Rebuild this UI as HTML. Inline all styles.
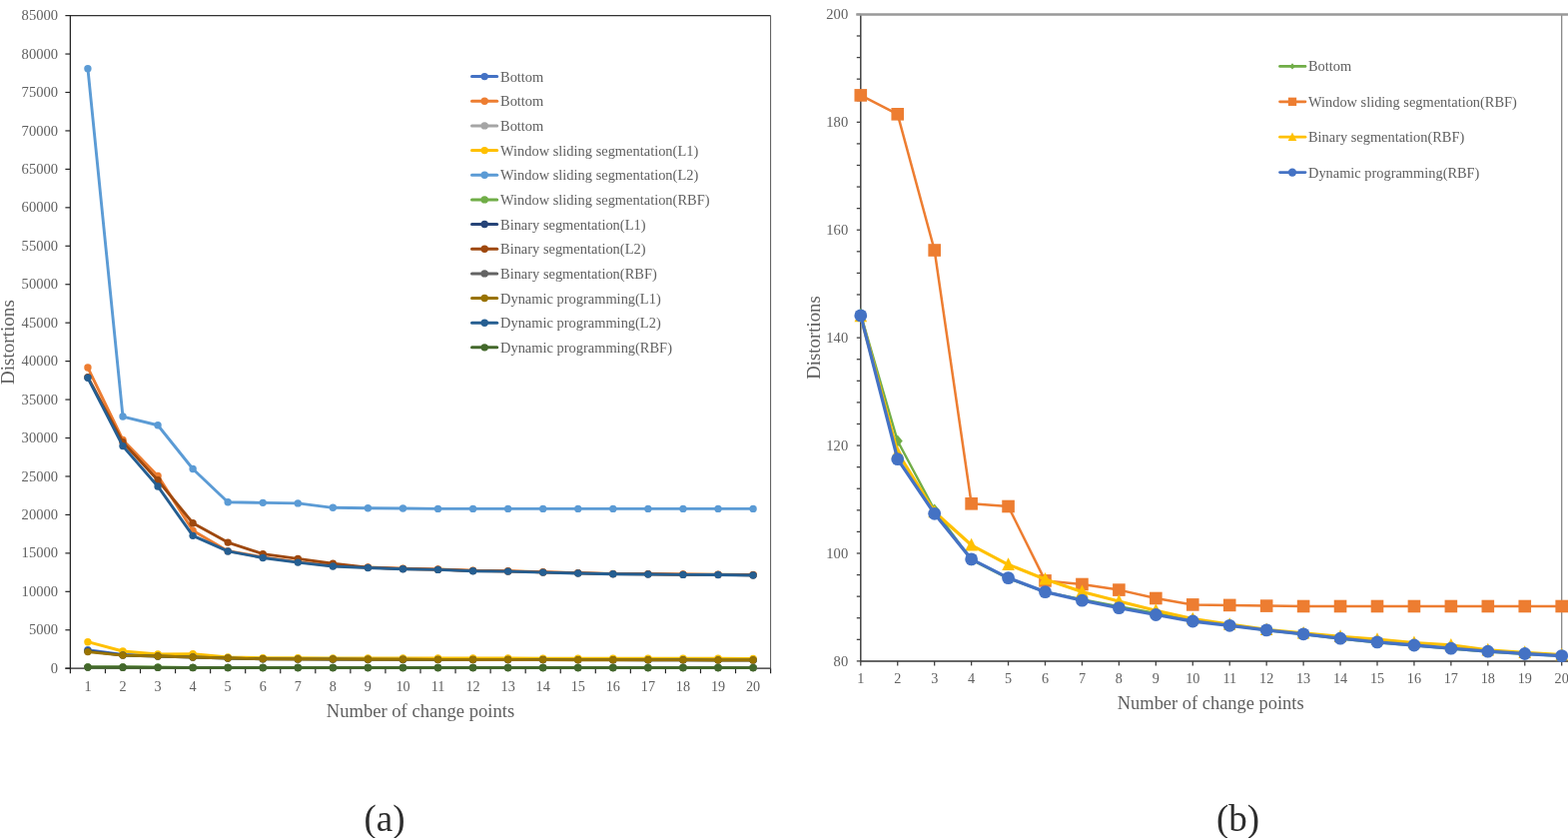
<!DOCTYPE html><html><head><meta charset="utf-8"><title>Distortions vs number of change points</title>
<style>html,body{margin:0;padding:0;background:#fff;width:1570px;height:839px;overflow:hidden}svg{display:block}text{font-family:'Liberation Serif','Times New Roman',serif}</style></head><body>
<svg width="1570" height="839" viewBox="0 0 1570 839">
<rect width="1570" height="839" fill="#fff"/>
<g id="chartA">
<line x1="70.4" y1="15.6" x2="771.6" y2="15.6" stroke="#333" stroke-width="1.2"/>
<line x1="771.6" y1="15.6" x2="771.6" y2="669.2" stroke="#555" stroke-width="1"/>
<line x1="70.4" y1="15" x2="70.4" y2="669.8" stroke="#262626" stroke-width="1.3"/>
<line x1="65.4" y1="669.2" x2="771.6" y2="669.2" stroke="#262626" stroke-width="1.3"/>
<g fill="#606060" font-size="14.6" text-anchor="end">
<line x1="65.4" y1="669.2" x2="70.4" y2="669.2" stroke="#262626" stroke-width="1.2"/>
<text transform="translate(58.1,673.8) scale(1,1.07)">0</text>
<line x1="65.4" y1="630.75" x2="70.4" y2="630.75" stroke="#262626" stroke-width="1.2"/>
<text transform="translate(58.1,635.35) scale(1,1.07)">5000</text>
<line x1="65.4" y1="592.31" x2="70.4" y2="592.31" stroke="#262626" stroke-width="1.2"/>
<text transform="translate(58.1,596.91) scale(1,1.07)">10000</text>
<line x1="65.4" y1="553.86" x2="70.4" y2="553.86" stroke="#262626" stroke-width="1.2"/>
<text transform="translate(58.1,558.46) scale(1,1.07)">15000</text>
<line x1="65.4" y1="515.41" x2="70.4" y2="515.41" stroke="#262626" stroke-width="1.2"/>
<text transform="translate(58.1,520.01) scale(1,1.07)">20000</text>
<line x1="65.4" y1="476.96" x2="70.4" y2="476.96" stroke="#262626" stroke-width="1.2"/>
<text transform="translate(58.1,481.56) scale(1,1.07)">25000</text>
<line x1="65.4" y1="438.52" x2="70.4" y2="438.52" stroke="#262626" stroke-width="1.2"/>
<text transform="translate(58.1,443.12) scale(1,1.07)">30000</text>
<line x1="65.4" y1="400.07" x2="70.4" y2="400.07" stroke="#262626" stroke-width="1.2"/>
<text transform="translate(58.1,404.67) scale(1,1.07)">35000</text>
<line x1="65.4" y1="361.62" x2="70.4" y2="361.62" stroke="#262626" stroke-width="1.2"/>
<text transform="translate(58.1,366.22) scale(1,1.07)">40000</text>
<line x1="65.4" y1="323.18" x2="70.4" y2="323.18" stroke="#262626" stroke-width="1.2"/>
<text transform="translate(58.1,327.78) scale(1,1.07)">45000</text>
<line x1="65.4" y1="284.73" x2="70.4" y2="284.73" stroke="#262626" stroke-width="1.2"/>
<text transform="translate(58.1,289.33) scale(1,1.07)">50000</text>
<line x1="65.4" y1="246.28" x2="70.4" y2="246.28" stroke="#262626" stroke-width="1.2"/>
<text transform="translate(58.1,250.88) scale(1,1.07)">55000</text>
<line x1="65.4" y1="207.84" x2="70.4" y2="207.84" stroke="#262626" stroke-width="1.2"/>
<text transform="translate(58.1,212.44) scale(1,1.07)">60000</text>
<line x1="65.4" y1="169.39" x2="70.4" y2="169.39" stroke="#262626" stroke-width="1.2"/>
<text transform="translate(58.1,173.99) scale(1,1.07)">65000</text>
<line x1="65.4" y1="130.94" x2="70.4" y2="130.94" stroke="#262626" stroke-width="1.2"/>
<text transform="translate(58.1,135.54) scale(1,1.07)">70000</text>
<line x1="65.4" y1="92.49" x2="70.4" y2="92.49" stroke="#262626" stroke-width="1.2"/>
<text transform="translate(58.1,97.09) scale(1,1.07)">75000</text>
<line x1="65.4" y1="54.05" x2="70.4" y2="54.05" stroke="#262626" stroke-width="1.2"/>
<text transform="translate(58.1,58.65) scale(1,1.07)">80000</text>
<line x1="65.4" y1="15.6" x2="70.4" y2="15.6" stroke="#262626" stroke-width="1.2"/>
<text transform="translate(58.1,20.2) scale(1,1.07)">85000</text>
</g>
<line x1="70.4" y1="669.2" x2="70.4" y2="674.2" stroke="#262626" stroke-width="1.2"/>
<line x1="105.46" y1="669.2" x2="105.46" y2="674.2" stroke="#262626" stroke-width="1.2"/>
<line x1="140.52" y1="669.2" x2="140.52" y2="674.2" stroke="#262626" stroke-width="1.2"/>
<line x1="175.58" y1="669.2" x2="175.58" y2="674.2" stroke="#262626" stroke-width="1.2"/>
<line x1="210.64" y1="669.2" x2="210.64" y2="674.2" stroke="#262626" stroke-width="1.2"/>
<line x1="245.7" y1="669.2" x2="245.7" y2="674.2" stroke="#262626" stroke-width="1.2"/>
<line x1="280.76" y1="669.2" x2="280.76" y2="674.2" stroke="#262626" stroke-width="1.2"/>
<line x1="315.82" y1="669.2" x2="315.82" y2="674.2" stroke="#262626" stroke-width="1.2"/>
<line x1="350.88" y1="669.2" x2="350.88" y2="674.2" stroke="#262626" stroke-width="1.2"/>
<line x1="385.94" y1="669.2" x2="385.94" y2="674.2" stroke="#262626" stroke-width="1.2"/>
<line x1="421" y1="669.2" x2="421" y2="674.2" stroke="#262626" stroke-width="1.2"/>
<line x1="456.06" y1="669.2" x2="456.06" y2="674.2" stroke="#262626" stroke-width="1.2"/>
<line x1="491.12" y1="669.2" x2="491.12" y2="674.2" stroke="#262626" stroke-width="1.2"/>
<line x1="526.18" y1="669.2" x2="526.18" y2="674.2" stroke="#262626" stroke-width="1.2"/>
<line x1="561.24" y1="669.2" x2="561.24" y2="674.2" stroke="#262626" stroke-width="1.2"/>
<line x1="596.3" y1="669.2" x2="596.3" y2="674.2" stroke="#262626" stroke-width="1.2"/>
<line x1="631.36" y1="669.2" x2="631.36" y2="674.2" stroke="#262626" stroke-width="1.2"/>
<line x1="666.42" y1="669.2" x2="666.42" y2="674.2" stroke="#262626" stroke-width="1.2"/>
<line x1="701.48" y1="669.2" x2="701.48" y2="674.2" stroke="#262626" stroke-width="1.2"/>
<line x1="736.54" y1="669.2" x2="736.54" y2="674.2" stroke="#262626" stroke-width="1.2"/>
<line x1="771.6" y1="669.2" x2="771.6" y2="674.2" stroke="#262626" stroke-width="1.2"/>
<g fill="#606060" font-size="14.2" text-anchor="middle">
<text x="87.93" y="692">1</text>
<text x="122.99" y="692">2</text>
<text x="158.05" y="692">3</text>
<text x="193.11" y="692">4</text>
<text x="228.17" y="692">5</text>
<text x="263.23" y="692">6</text>
<text x="298.29" y="692">7</text>
<text x="333.35" y="692">8</text>
<text x="368.41" y="692">9</text>
<text x="403.47" y="692">10</text>
<text x="438.53" y="692">11</text>
<text x="473.59" y="692">12</text>
<text x="508.65" y="692">13</text>
<text x="543.71" y="692">14</text>
<text x="578.77" y="692">15</text>
<text x="613.83" y="692">16</text>
<text x="648.89" y="692">17</text>
<text x="683.95" y="692">18</text>
<text x="719.01" y="692">19</text>
<text x="754.07" y="692">20</text>
</g>
<text x="421" y="717.6" font-size="18.6" fill="#606060" text-anchor="middle">Number of change points</text>
<text transform="translate(14.2,342.6) rotate(-90)" font-size="19.1" fill="#606060" text-anchor="middle">Distortions</text>
<g><polyline points="87.93,650.75 122.99,655.36 158.05,656.74 193.11,657.67 228.17,658.74 263.23,659.51 298.29,659.67 333.35,659.82 368.41,659.97 403.47,660.13 438.53,660.19 473.59,660.25 508.65,660.31 543.71,660.37 578.77,660.43 613.83,660.5 648.89,660.56 683.95,660.62 719.01,660.68 754.07,660.74" fill="none" stroke="#4472C4" stroke-width="2.9" stroke-linejoin="round" stroke-linecap="round"/>
<circle cx="87.93" cy="650.75" r="3.7" fill="#4472C4"/>
<circle cx="122.99" cy="655.36" r="3.7" fill="#4472C4"/>
<circle cx="158.05" cy="656.74" r="3.7" fill="#4472C4"/>
<circle cx="193.11" cy="657.67" r="3.7" fill="#4472C4"/>
<circle cx="228.17" cy="658.74" r="3.7" fill="#4472C4"/>
<circle cx="263.23" cy="659.51" r="3.7" fill="#4472C4"/>
<circle cx="298.29" cy="659.67" r="3.7" fill="#4472C4"/>
<circle cx="333.35" cy="659.82" r="3.7" fill="#4472C4"/>
<circle cx="368.41" cy="659.97" r="3.7" fill="#4472C4"/>
<circle cx="403.47" cy="660.13" r="3.7" fill="#4472C4"/>
<circle cx="438.53" cy="660.19" r="3.7" fill="#4472C4"/>
<circle cx="473.59" cy="660.25" r="3.7" fill="#4472C4"/>
<circle cx="508.65" cy="660.31" r="3.7" fill="#4472C4"/>
<circle cx="543.71" cy="660.37" r="3.7" fill="#4472C4"/>
<circle cx="578.77" cy="660.43" r="3.7" fill="#4472C4"/>
<circle cx="613.83" cy="660.5" r="3.7" fill="#4472C4"/>
<circle cx="648.89" cy="660.56" r="3.7" fill="#4472C4"/>
<circle cx="683.95" cy="660.62" r="3.7" fill="#4472C4"/>
<circle cx="719.01" cy="660.68" r="3.7" fill="#4472C4"/>
<circle cx="754.07" cy="660.74" r="3.7" fill="#4472C4"/>
</g>
<g><polyline points="87.93,368.04 122.99,440.44 158.05,476.39 193.11,531.18 228.17,551.63 263.23,557.86 298.29,562.62 333.35,566.47 368.41,568.01 403.47,569.31 438.53,569.93 473.59,571.24 508.65,571.7 543.71,572.7 578.77,573.62 613.83,574.43 648.89,574.62 683.95,575.04 719.01,575.16 754.07,575.54" fill="none" stroke="#ED7D31" stroke-width="2.9" stroke-linejoin="round" stroke-linecap="round"/>
<circle cx="87.93" cy="368.04" r="3.7" fill="#ED7D31"/>
<circle cx="122.99" cy="440.44" r="3.7" fill="#ED7D31"/>
<circle cx="158.05" cy="476.39" r="3.7" fill="#ED7D31"/>
<circle cx="193.11" cy="531.18" r="3.7" fill="#ED7D31"/>
<circle cx="228.17" cy="551.63" r="3.7" fill="#ED7D31"/>
<circle cx="263.23" cy="557.86" r="3.7" fill="#ED7D31"/>
<circle cx="298.29" cy="562.62" r="3.7" fill="#ED7D31"/>
<circle cx="333.35" cy="566.47" r="3.7" fill="#ED7D31"/>
<circle cx="368.41" cy="568.01" r="3.7" fill="#ED7D31"/>
<circle cx="403.47" cy="569.31" r="3.7" fill="#ED7D31"/>
<circle cx="438.53" cy="569.93" r="3.7" fill="#ED7D31"/>
<circle cx="473.59" cy="571.24" r="3.7" fill="#ED7D31"/>
<circle cx="508.65" cy="571.7" r="3.7" fill="#ED7D31"/>
<circle cx="543.71" cy="572.7" r="3.7" fill="#ED7D31"/>
<circle cx="578.77" cy="573.62" r="3.7" fill="#ED7D31"/>
<circle cx="613.83" cy="574.43" r="3.7" fill="#ED7D31"/>
<circle cx="648.89" cy="574.62" r="3.7" fill="#ED7D31"/>
<circle cx="683.95" cy="575.04" r="3.7" fill="#ED7D31"/>
<circle cx="719.01" cy="575.16" r="3.7" fill="#ED7D31"/>
<circle cx="754.07" cy="575.54" r="3.7" fill="#ED7D31"/>
</g>
<g><polyline points="87.93,668.09 122.99,668.27 158.05,668.37 193.11,668.44 228.17,668.47 263.23,668.49 298.29,668.5 333.35,668.51 368.41,668.52 403.47,668.53 438.53,668.53 473.59,668.54 508.65,668.55 543.71,668.55 578.77,668.56 613.83,668.56 648.89,668.57 683.95,668.57 719.01,668.57 754.07,668.58" fill="none" stroke="#A5A5A5" stroke-width="2.9" stroke-linejoin="round" stroke-linecap="round"/>
<circle cx="87.93" cy="668.09" r="3.7" fill="#A5A5A5"/>
<circle cx="122.99" cy="668.27" r="3.7" fill="#A5A5A5"/>
<circle cx="158.05" cy="668.37" r="3.7" fill="#A5A5A5"/>
<circle cx="193.11" cy="668.44" r="3.7" fill="#A5A5A5"/>
<circle cx="228.17" cy="668.47" r="3.7" fill="#A5A5A5"/>
<circle cx="263.23" cy="668.49" r="3.7" fill="#A5A5A5"/>
<circle cx="298.29" cy="668.5" r="3.7" fill="#A5A5A5"/>
<circle cx="333.35" cy="668.51" r="3.7" fill="#A5A5A5"/>
<circle cx="368.41" cy="668.52" r="3.7" fill="#A5A5A5"/>
<circle cx="403.47" cy="668.53" r="3.7" fill="#A5A5A5"/>
<circle cx="438.53" cy="668.53" r="3.7" fill="#A5A5A5"/>
<circle cx="473.59" cy="668.54" r="3.7" fill="#A5A5A5"/>
<circle cx="508.65" cy="668.55" r="3.7" fill="#A5A5A5"/>
<circle cx="543.71" cy="668.55" r="3.7" fill="#A5A5A5"/>
<circle cx="578.77" cy="668.56" r="3.7" fill="#A5A5A5"/>
<circle cx="613.83" cy="668.56" r="3.7" fill="#A5A5A5"/>
<circle cx="648.89" cy="668.57" r="3.7" fill="#A5A5A5"/>
<circle cx="683.95" cy="668.57" r="3.7" fill="#A5A5A5"/>
<circle cx="719.01" cy="668.57" r="3.7" fill="#A5A5A5"/>
<circle cx="754.07" cy="668.58" r="3.7" fill="#A5A5A5"/>
</g>
<g><polyline points="87.93,642.71 122.99,651.98 158.05,655.05 193.11,654.74 228.17,657.9 263.23,658.67 298.29,658.82 333.35,658.84 368.41,658.87 403.47,658.9 438.53,658.94 473.59,658.99 508.65,659.03 543.71,659.08 578.77,659.13 613.83,659.17 648.89,659.22 683.95,659.27 719.01,659.31 754.07,659.36" fill="none" stroke="#FFC000" stroke-width="2.9" stroke-linejoin="round" stroke-linecap="round"/>
<circle cx="87.93" cy="642.71" r="3.7" fill="#FFC000"/>
<circle cx="122.99" cy="651.98" r="3.7" fill="#FFC000"/>
<circle cx="158.05" cy="655.05" r="3.7" fill="#FFC000"/>
<circle cx="193.11" cy="654.74" r="3.7" fill="#FFC000"/>
<circle cx="228.17" cy="657.9" r="3.7" fill="#FFC000"/>
<circle cx="263.23" cy="658.67" r="3.7" fill="#FFC000"/>
<circle cx="298.29" cy="658.82" r="3.7" fill="#FFC000"/>
<circle cx="333.35" cy="658.84" r="3.7" fill="#FFC000"/>
<circle cx="368.41" cy="658.87" r="3.7" fill="#FFC000"/>
<circle cx="403.47" cy="658.9" r="3.7" fill="#FFC000"/>
<circle cx="438.53" cy="658.94" r="3.7" fill="#FFC000"/>
<circle cx="473.59" cy="658.99" r="3.7" fill="#FFC000"/>
<circle cx="508.65" cy="659.03" r="3.7" fill="#FFC000"/>
<circle cx="543.71" cy="659.08" r="3.7" fill="#FFC000"/>
<circle cx="578.77" cy="659.13" r="3.7" fill="#FFC000"/>
<circle cx="613.83" cy="659.17" r="3.7" fill="#FFC000"/>
<circle cx="648.89" cy="659.22" r="3.7" fill="#FFC000"/>
<circle cx="683.95" cy="659.27" r="3.7" fill="#FFC000"/>
<circle cx="719.01" cy="659.31" r="3.7" fill="#FFC000"/>
<circle cx="754.07" cy="659.36" r="3.7" fill="#FFC000"/>
</g>
<g><polyline points="87.93,68.66 122.99,417.04 158.05,425.78 193.11,469.53 228.17,502.8 263.23,503.33 298.29,503.92 333.35,508.32 368.41,508.72 403.47,509.03 438.53,509.41 473.59,509.41 508.65,509.41 543.71,509.41 578.77,509.41 613.83,509.41 648.89,509.41 683.95,509.41 719.01,509.41 754.07,509.41" fill="none" stroke="#5B9BD5" stroke-width="2.9" stroke-linejoin="round" stroke-linecap="round"/>
<circle cx="87.93" cy="68.66" r="3.7" fill="#5B9BD5"/>
<circle cx="122.99" cy="417.04" r="3.7" fill="#5B9BD5"/>
<circle cx="158.05" cy="425.78" r="3.7" fill="#5B9BD5"/>
<circle cx="193.11" cy="469.53" r="3.7" fill="#5B9BD5"/>
<circle cx="228.17" cy="502.8" r="3.7" fill="#5B9BD5"/>
<circle cx="263.23" cy="503.33" r="3.7" fill="#5B9BD5"/>
<circle cx="298.29" cy="503.92" r="3.7" fill="#5B9BD5"/>
<circle cx="333.35" cy="508.32" r="3.7" fill="#5B9BD5"/>
<circle cx="368.41" cy="508.72" r="3.7" fill="#5B9BD5"/>
<circle cx="403.47" cy="509.03" r="3.7" fill="#5B9BD5"/>
<circle cx="438.53" cy="509.41" r="3.7" fill="#5B9BD5"/>
<circle cx="473.59" cy="509.41" r="3.7" fill="#5B9BD5"/>
<circle cx="508.65" cy="509.41" r="3.7" fill="#5B9BD5"/>
<circle cx="543.71" cy="509.41" r="3.7" fill="#5B9BD5"/>
<circle cx="578.77" cy="509.41" r="3.7" fill="#5B9BD5"/>
<circle cx="613.83" cy="509.41" r="3.7" fill="#5B9BD5"/>
<circle cx="648.89" cy="509.41" r="3.7" fill="#5B9BD5"/>
<circle cx="683.95" cy="509.41" r="3.7" fill="#5B9BD5"/>
<circle cx="719.01" cy="509.41" r="3.7" fill="#5B9BD5"/>
<circle cx="754.07" cy="509.41" r="3.7" fill="#5B9BD5"/>
</g>
<g><polyline points="87.93,667.78 122.99,667.8 158.05,668 193.11,668.36 228.17,668.36 263.23,668.47 298.29,668.48 333.35,668.48 368.41,668.5 403.47,668.5 438.53,668.51 473.59,668.51 508.65,668.51 543.71,668.51 578.77,668.51 613.83,668.51 648.89,668.51 683.95,668.51 719.01,668.51 754.07,668.51" fill="none" stroke="#70AD47" stroke-width="2.9" stroke-linejoin="round" stroke-linecap="round"/>
<circle cx="87.93" cy="667.78" r="3.7" fill="#70AD47"/>
<circle cx="122.99" cy="667.8" r="3.7" fill="#70AD47"/>
<circle cx="158.05" cy="668" r="3.7" fill="#70AD47"/>
<circle cx="193.11" cy="668.36" r="3.7" fill="#70AD47"/>
<circle cx="228.17" cy="668.36" r="3.7" fill="#70AD47"/>
<circle cx="263.23" cy="668.47" r="3.7" fill="#70AD47"/>
<circle cx="298.29" cy="668.48" r="3.7" fill="#70AD47"/>
<circle cx="333.35" cy="668.48" r="3.7" fill="#70AD47"/>
<circle cx="368.41" cy="668.5" r="3.7" fill="#70AD47"/>
<circle cx="403.47" cy="668.5" r="3.7" fill="#70AD47"/>
<circle cx="438.53" cy="668.51" r="3.7" fill="#70AD47"/>
<circle cx="473.59" cy="668.51" r="3.7" fill="#70AD47"/>
<circle cx="508.65" cy="668.51" r="3.7" fill="#70AD47"/>
<circle cx="543.71" cy="668.51" r="3.7" fill="#70AD47"/>
<circle cx="578.77" cy="668.51" r="3.7" fill="#70AD47"/>
<circle cx="613.83" cy="668.51" r="3.7" fill="#70AD47"/>
<circle cx="648.89" cy="668.51" r="3.7" fill="#70AD47"/>
<circle cx="683.95" cy="668.51" r="3.7" fill="#70AD47"/>
<circle cx="719.01" cy="668.51" r="3.7" fill="#70AD47"/>
<circle cx="754.07" cy="668.51" r="3.7" fill="#70AD47"/>
</g>
<g><polyline points="87.93,651.9 122.99,655.97 158.05,656.97 193.11,657.97 228.17,658.97 263.23,659.74 298.29,659.88 333.35,660.01 368.41,660.15 403.47,660.28 438.53,660.34 473.59,660.4 508.65,660.46 543.71,660.53 578.77,660.59 613.83,660.65 648.89,660.71 683.95,660.77 719.01,660.83 754.07,660.9" fill="none" stroke="#264478" stroke-width="2.9" stroke-linejoin="round" stroke-linecap="round"/>
<circle cx="87.93" cy="651.9" r="3.7" fill="#264478"/>
<circle cx="122.99" cy="655.97" r="3.7" fill="#264478"/>
<circle cx="158.05" cy="656.97" r="3.7" fill="#264478"/>
<circle cx="193.11" cy="657.97" r="3.7" fill="#264478"/>
<circle cx="228.17" cy="658.97" r="3.7" fill="#264478"/>
<circle cx="263.23" cy="659.74" r="3.7" fill="#264478"/>
<circle cx="298.29" cy="659.88" r="3.7" fill="#264478"/>
<circle cx="333.35" cy="660.01" r="3.7" fill="#264478"/>
<circle cx="368.41" cy="660.15" r="3.7" fill="#264478"/>
<circle cx="403.47" cy="660.28" r="3.7" fill="#264478"/>
<circle cx="438.53" cy="660.34" r="3.7" fill="#264478"/>
<circle cx="473.59" cy="660.4" r="3.7" fill="#264478"/>
<circle cx="508.65" cy="660.46" r="3.7" fill="#264478"/>
<circle cx="543.71" cy="660.53" r="3.7" fill="#264478"/>
<circle cx="578.77" cy="660.59" r="3.7" fill="#264478"/>
<circle cx="613.83" cy="660.65" r="3.7" fill="#264478"/>
<circle cx="648.89" cy="660.71" r="3.7" fill="#264478"/>
<circle cx="683.95" cy="660.77" r="3.7" fill="#264478"/>
<circle cx="719.01" cy="660.83" r="3.7" fill="#264478"/>
<circle cx="754.07" cy="660.9" r="3.7" fill="#264478"/>
</g>
<g><polyline points="87.93,377.77 122.99,442.75 158.05,480.81 193.11,523.77 228.17,543.09 263.23,554.63 298.29,559.4 333.35,564.24 368.41,568.08 403.47,569.55 438.53,570.16 473.59,571.47 508.65,571.89 543.71,572.89 578.77,573.81 613.83,574.62 648.89,574.81 683.95,575.22 719.01,575.35 754.07,575.74" fill="none" stroke="#9E480E" stroke-width="2.9" stroke-linejoin="round" stroke-linecap="round"/>
<circle cx="87.93" cy="377.77" r="3.7" fill="#9E480E"/>
<circle cx="122.99" cy="442.75" r="3.7" fill="#9E480E"/>
<circle cx="158.05" cy="480.81" r="3.7" fill="#9E480E"/>
<circle cx="193.11" cy="523.77" r="3.7" fill="#9E480E"/>
<circle cx="228.17" cy="543.09" r="3.7" fill="#9E480E"/>
<circle cx="263.23" cy="554.63" r="3.7" fill="#9E480E"/>
<circle cx="298.29" cy="559.4" r="3.7" fill="#9E480E"/>
<circle cx="333.35" cy="564.24" r="3.7" fill="#9E480E"/>
<circle cx="368.41" cy="568.08" r="3.7" fill="#9E480E"/>
<circle cx="403.47" cy="569.55" r="3.7" fill="#9E480E"/>
<circle cx="438.53" cy="570.16" r="3.7" fill="#9E480E"/>
<circle cx="473.59" cy="571.47" r="3.7" fill="#9E480E"/>
<circle cx="508.65" cy="571.89" r="3.7" fill="#9E480E"/>
<circle cx="543.71" cy="572.89" r="3.7" fill="#9E480E"/>
<circle cx="578.77" cy="573.81" r="3.7" fill="#9E480E"/>
<circle cx="613.83" cy="574.62" r="3.7" fill="#9E480E"/>
<circle cx="648.89" cy="574.81" r="3.7" fill="#9E480E"/>
<circle cx="683.95" cy="575.22" r="3.7" fill="#9E480E"/>
<circle cx="719.01" cy="575.35" r="3.7" fill="#9E480E"/>
<circle cx="754.07" cy="575.74" r="3.7" fill="#9E480E"/>
</g>
<g><polyline points="87.93,668.09 122.99,668.29 158.05,668.37 193.11,668.42 228.17,668.45 263.23,668.47 298.29,668.49 333.35,668.5 368.41,668.51 403.47,668.52 438.53,668.53 473.59,668.54 508.65,668.54 543.71,668.55 578.77,668.55 613.83,668.56 648.89,668.56 683.95,668.57 719.01,668.57 754.07,668.58" fill="none" stroke="#636363" stroke-width="2.9" stroke-linejoin="round" stroke-linecap="round"/>
<circle cx="87.93" cy="668.09" r="3.7" fill="#636363"/>
<circle cx="122.99" cy="668.29" r="3.7" fill="#636363"/>
<circle cx="158.05" cy="668.37" r="3.7" fill="#636363"/>
<circle cx="193.11" cy="668.42" r="3.7" fill="#636363"/>
<circle cx="228.17" cy="668.45" r="3.7" fill="#636363"/>
<circle cx="263.23" cy="668.47" r="3.7" fill="#636363"/>
<circle cx="298.29" cy="668.49" r="3.7" fill="#636363"/>
<circle cx="333.35" cy="668.5" r="3.7" fill="#636363"/>
<circle cx="368.41" cy="668.51" r="3.7" fill="#636363"/>
<circle cx="403.47" cy="668.52" r="3.7" fill="#636363"/>
<circle cx="438.53" cy="668.53" r="3.7" fill="#636363"/>
<circle cx="473.59" cy="668.54" r="3.7" fill="#636363"/>
<circle cx="508.65" cy="668.54" r="3.7" fill="#636363"/>
<circle cx="543.71" cy="668.55" r="3.7" fill="#636363"/>
<circle cx="578.77" cy="668.55" r="3.7" fill="#636363"/>
<circle cx="613.83" cy="668.56" r="3.7" fill="#636363"/>
<circle cx="648.89" cy="668.56" r="3.7" fill="#636363"/>
<circle cx="683.95" cy="668.57" r="3.7" fill="#636363"/>
<circle cx="719.01" cy="668.57" r="3.7" fill="#636363"/>
<circle cx="754.07" cy="668.58" r="3.7" fill="#636363"/>
</g>
<g><polyline points="87.93,652.59 122.99,656.1 158.05,657 193.11,658 228.17,659 263.23,659.8 298.29,659.94 333.35,660.08 368.41,660.22 403.47,660.36 438.53,660.42 473.59,660.49 508.65,660.55 543.71,660.62 578.77,660.68 613.83,660.74 648.89,660.81 683.95,660.87 719.01,660.94 754.07,661" fill="none" stroke="#997300" stroke-width="2.9" stroke-linejoin="round" stroke-linecap="round"/>
<circle cx="87.93" cy="652.59" r="3.7" fill="#997300"/>
<circle cx="122.99" cy="656.1" r="3.7" fill="#997300"/>
<circle cx="158.05" cy="657" r="3.7" fill="#997300"/>
<circle cx="193.11" cy="658" r="3.7" fill="#997300"/>
<circle cx="228.17" cy="659" r="3.7" fill="#997300"/>
<circle cx="263.23" cy="659.8" r="3.7" fill="#997300"/>
<circle cx="298.29" cy="659.94" r="3.7" fill="#997300"/>
<circle cx="333.35" cy="660.08" r="3.7" fill="#997300"/>
<circle cx="368.41" cy="660.22" r="3.7" fill="#997300"/>
<circle cx="403.47" cy="660.36" r="3.7" fill="#997300"/>
<circle cx="438.53" cy="660.42" r="3.7" fill="#997300"/>
<circle cx="473.59" cy="660.49" r="3.7" fill="#997300"/>
<circle cx="508.65" cy="660.55" r="3.7" fill="#997300"/>
<circle cx="543.71" cy="660.62" r="3.7" fill="#997300"/>
<circle cx="578.77" cy="660.68" r="3.7" fill="#997300"/>
<circle cx="613.83" cy="660.74" r="3.7" fill="#997300"/>
<circle cx="648.89" cy="660.81" r="3.7" fill="#997300"/>
<circle cx="683.95" cy="660.87" r="3.7" fill="#997300"/>
<circle cx="719.01" cy="660.94" r="3.7" fill="#997300"/>
<circle cx="754.07" cy="661" r="3.7" fill="#997300"/>
</g>
<g><polyline points="87.93,378.31 122.99,446.59 158.05,486.96 193.11,536.33 228.17,551.94 263.23,558.47 298.29,563.12 333.35,567.01 368.41,568.51 403.47,569.81 438.53,570.41 473.59,571.71 508.65,572.11 543.71,573.11 578.77,574.01 613.83,574.81 648.89,575 683.95,575.41 719.01,575.54 754.07,575.93" fill="none" stroke="#255E91" stroke-width="2.9" stroke-linejoin="round" stroke-linecap="round"/>
<circle cx="87.93" cy="378.31" r="3.7" fill="#255E91"/>
<circle cx="122.99" cy="446.59" r="3.7" fill="#255E91"/>
<circle cx="158.05" cy="486.96" r="3.7" fill="#255E91"/>
<circle cx="193.11" cy="536.33" r="3.7" fill="#255E91"/>
<circle cx="228.17" cy="551.94" r="3.7" fill="#255E91"/>
<circle cx="263.23" cy="558.47" r="3.7" fill="#255E91"/>
<circle cx="298.29" cy="563.12" r="3.7" fill="#255E91"/>
<circle cx="333.35" cy="567.01" r="3.7" fill="#255E91"/>
<circle cx="368.41" cy="568.51" r="3.7" fill="#255E91"/>
<circle cx="403.47" cy="569.81" r="3.7" fill="#255E91"/>
<circle cx="438.53" cy="570.41" r="3.7" fill="#255E91"/>
<circle cx="473.59" cy="571.71" r="3.7" fill="#255E91"/>
<circle cx="508.65" cy="572.11" r="3.7" fill="#255E91"/>
<circle cx="543.71" cy="573.11" r="3.7" fill="#255E91"/>
<circle cx="578.77" cy="574.01" r="3.7" fill="#255E91"/>
<circle cx="613.83" cy="574.81" r="3.7" fill="#255E91"/>
<circle cx="648.89" cy="575" r="3.7" fill="#255E91"/>
<circle cx="683.95" cy="575.41" r="3.7" fill="#255E91"/>
<circle cx="719.01" cy="575.54" r="3.7" fill="#255E91"/>
<circle cx="754.07" cy="575.93" r="3.7" fill="#255E91"/>
</g>
<g><polyline points="87.93,668.09 122.99,668.3 158.05,668.37 193.11,668.44 228.17,668.47 263.23,668.49 298.29,668.5 333.35,668.51 368.41,668.52 403.47,668.53 438.53,668.53 473.59,668.54 508.65,668.55 543.71,668.55 578.77,668.56 613.83,668.56 648.89,668.57 683.95,668.57 719.01,668.57 754.07,668.58" fill="none" stroke="#43682B" stroke-width="2.9" stroke-linejoin="round" stroke-linecap="round"/>
<circle cx="87.93" cy="668.09" r="3.7" fill="#43682B"/>
<circle cx="122.99" cy="668.3" r="3.7" fill="#43682B"/>
<circle cx="158.05" cy="668.37" r="3.7" fill="#43682B"/>
<circle cx="193.11" cy="668.44" r="3.7" fill="#43682B"/>
<circle cx="228.17" cy="668.47" r="3.7" fill="#43682B"/>
<circle cx="263.23" cy="668.49" r="3.7" fill="#43682B"/>
<circle cx="298.29" cy="668.5" r="3.7" fill="#43682B"/>
<circle cx="333.35" cy="668.51" r="3.7" fill="#43682B"/>
<circle cx="368.41" cy="668.52" r="3.7" fill="#43682B"/>
<circle cx="403.47" cy="668.53" r="3.7" fill="#43682B"/>
<circle cx="438.53" cy="668.53" r="3.7" fill="#43682B"/>
<circle cx="473.59" cy="668.54" r="3.7" fill="#43682B"/>
<circle cx="508.65" cy="668.55" r="3.7" fill="#43682B"/>
<circle cx="543.71" cy="668.55" r="3.7" fill="#43682B"/>
<circle cx="578.77" cy="668.56" r="3.7" fill="#43682B"/>
<circle cx="613.83" cy="668.56" r="3.7" fill="#43682B"/>
<circle cx="648.89" cy="668.57" r="3.7" fill="#43682B"/>
<circle cx="683.95" cy="668.57" r="3.7" fill="#43682B"/>
<circle cx="719.01" cy="668.57" r="3.7" fill="#43682B"/>
<circle cx="754.07" cy="668.58" r="3.7" fill="#43682B"/>
</g>
<g font-size="14.45" fill="#606060">
<line x1="472.5" y1="76.6" x2="497.7" y2="76.6" stroke="#4472C4" stroke-width="3" stroke-linecap="round"/>
<circle cx="485.2" cy="76.6" r="3.7" fill="#4472C4"/>
<text transform="translate(501,81.7) scale(1,1.05)">Bottom</text>
<line x1="472.5" y1="101.26" x2="497.7" y2="101.26" stroke="#ED7D31" stroke-width="3" stroke-linecap="round"/>
<circle cx="485.2" cy="101.26" r="3.7" fill="#ED7D31"/>
<text transform="translate(501,106.36) scale(1,1.05)">Bottom</text>
<line x1="472.5" y1="125.92" x2="497.7" y2="125.92" stroke="#A5A5A5" stroke-width="3" stroke-linecap="round"/>
<circle cx="485.2" cy="125.92" r="3.7" fill="#A5A5A5"/>
<text transform="translate(501,131.02) scale(1,1.05)">Bottom</text>
<line x1="472.5" y1="150.58" x2="497.7" y2="150.58" stroke="#FFC000" stroke-width="3" stroke-linecap="round"/>
<circle cx="485.2" cy="150.58" r="3.7" fill="#FFC000"/>
<text transform="translate(501,155.68) scale(1,1.05)">Window sliding segmentation(L1)</text>
<line x1="472.5" y1="175.24" x2="497.7" y2="175.24" stroke="#5B9BD5" stroke-width="3" stroke-linecap="round"/>
<circle cx="485.2" cy="175.24" r="3.7" fill="#5B9BD5"/>
<text transform="translate(501,180.34) scale(1,1.05)">Window sliding segmentation(L2)</text>
<line x1="472.5" y1="199.9" x2="497.7" y2="199.9" stroke="#70AD47" stroke-width="3" stroke-linecap="round"/>
<circle cx="485.2" cy="199.9" r="3.7" fill="#70AD47"/>
<text transform="translate(501,205) scale(1,1.05)">Window sliding segmentation(RBF)</text>
<line x1="472.5" y1="224.56" x2="497.7" y2="224.56" stroke="#264478" stroke-width="3" stroke-linecap="round"/>
<circle cx="485.2" cy="224.56" r="3.7" fill="#264478"/>
<text transform="translate(501,229.66) scale(1,1.05)">Binary segmentation(L1)</text>
<line x1="472.5" y1="249.22" x2="497.7" y2="249.22" stroke="#9E480E" stroke-width="3" stroke-linecap="round"/>
<circle cx="485.2" cy="249.22" r="3.7" fill="#9E480E"/>
<text transform="translate(501,254.32) scale(1,1.05)">Binary segmentation(L2)</text>
<line x1="472.5" y1="273.88" x2="497.7" y2="273.88" stroke="#636363" stroke-width="3" stroke-linecap="round"/>
<circle cx="485.2" cy="273.88" r="3.7" fill="#636363"/>
<text transform="translate(501,278.98) scale(1,1.05)">Binary segmentation(RBF)</text>
<line x1="472.5" y1="298.54" x2="497.7" y2="298.54" stroke="#997300" stroke-width="3" stroke-linecap="round"/>
<circle cx="485.2" cy="298.54" r="3.7" fill="#997300"/>
<text transform="translate(501,303.64) scale(1,1.05)">Dynamic programming(L1)</text>
<line x1="472.5" y1="323.2" x2="497.7" y2="323.2" stroke="#255E91" stroke-width="3" stroke-linecap="round"/>
<circle cx="485.2" cy="323.2" r="3.7" fill="#255E91"/>
<text transform="translate(501,328.3) scale(1,1.05)">Dynamic programming(L2)</text>
<line x1="472.5" y1="347.86" x2="497.7" y2="347.86" stroke="#43682B" stroke-width="3" stroke-linecap="round"/>
<circle cx="485.2" cy="347.86" r="3.7" fill="#43682B"/>
<text transform="translate(501,352.96) scale(1,1.05)">Dynamic programming(RBF)</text>
</g>
</g>
<g id="chartB">
<line x1="1563.7" y1="14.4" x2="1563.7" y2="661.9" stroke="#7f7f7f" stroke-width="1.2"/>
<line x1="861.8" y1="14.4" x2="861.8" y2="661.9" stroke="#404040" stroke-width="1.5"/>
<line x1="861.8" y1="661.9" x2="1570" y2="661.9" stroke="#333" stroke-width="1.5"/>
<g fill="#606060" font-size="14.6" text-anchor="end">
<line x1="857.8" y1="661.9" x2="861.8" y2="661.9" stroke="#404040" stroke-width="1.3"/>
<text transform="translate(849.2,666.5) scale(1,1.07)">80</text>
<line x1="857.8" y1="640.32" x2="861.8" y2="640.32" stroke="#404040" stroke-width="1.3"/>
<line x1="857.8" y1="618.73" x2="861.8" y2="618.73" stroke="#404040" stroke-width="1.3"/>
<line x1="857.8" y1="597.15" x2="861.8" y2="597.15" stroke="#404040" stroke-width="1.3"/>
<line x1="857.8" y1="575.57" x2="861.8" y2="575.57" stroke="#404040" stroke-width="1.3"/>
<line x1="857.8" y1="553.98" x2="861.8" y2="553.98" stroke="#404040" stroke-width="1.3"/>
<text transform="translate(849.2,558.58) scale(1,1.07)">100</text>
<line x1="857.8" y1="532.4" x2="861.8" y2="532.4" stroke="#404040" stroke-width="1.3"/>
<line x1="857.8" y1="510.82" x2="861.8" y2="510.82" stroke="#404040" stroke-width="1.3"/>
<line x1="857.8" y1="489.23" x2="861.8" y2="489.23" stroke="#404040" stroke-width="1.3"/>
<line x1="857.8" y1="467.65" x2="861.8" y2="467.65" stroke="#404040" stroke-width="1.3"/>
<line x1="857.8" y1="446.07" x2="861.8" y2="446.07" stroke="#404040" stroke-width="1.3"/>
<text transform="translate(849.2,450.67) scale(1,1.07)">120</text>
<line x1="857.8" y1="424.48" x2="861.8" y2="424.48" stroke="#404040" stroke-width="1.3"/>
<line x1="857.8" y1="402.9" x2="861.8" y2="402.9" stroke="#404040" stroke-width="1.3"/>
<line x1="857.8" y1="381.32" x2="861.8" y2="381.32" stroke="#404040" stroke-width="1.3"/>
<line x1="857.8" y1="359.73" x2="861.8" y2="359.73" stroke="#404040" stroke-width="1.3"/>
<line x1="857.8" y1="338.15" x2="861.8" y2="338.15" stroke="#404040" stroke-width="1.3"/>
<text transform="translate(849.2,342.75) scale(1,1.07)">140</text>
<line x1="857.8" y1="316.57" x2="861.8" y2="316.57" stroke="#404040" stroke-width="1.3"/>
<line x1="857.8" y1="294.98" x2="861.8" y2="294.98" stroke="#404040" stroke-width="1.3"/>
<line x1="857.8" y1="273.4" x2="861.8" y2="273.4" stroke="#404040" stroke-width="1.3"/>
<line x1="857.8" y1="251.82" x2="861.8" y2="251.82" stroke="#404040" stroke-width="1.3"/>
<line x1="857.8" y1="230.23" x2="861.8" y2="230.23" stroke="#404040" stroke-width="1.3"/>
<text transform="translate(849.2,234.83) scale(1,1.07)">160</text>
<line x1="857.8" y1="208.65" x2="861.8" y2="208.65" stroke="#404040" stroke-width="1.3"/>
<line x1="857.8" y1="187.07" x2="861.8" y2="187.07" stroke="#404040" stroke-width="1.3"/>
<line x1="857.8" y1="165.48" x2="861.8" y2="165.48" stroke="#404040" stroke-width="1.3"/>
<line x1="857.8" y1="143.9" x2="861.8" y2="143.9" stroke="#404040" stroke-width="1.3"/>
<line x1="857.8" y1="122.32" x2="861.8" y2="122.32" stroke="#404040" stroke-width="1.3"/>
<text transform="translate(849.2,126.92) scale(1,1.07)">180</text>
<line x1="857.8" y1="100.73" x2="861.8" y2="100.73" stroke="#404040" stroke-width="1.3"/>
<line x1="857.8" y1="79.15" x2="861.8" y2="79.15" stroke="#404040" stroke-width="1.3"/>
<line x1="857.8" y1="57.57" x2="861.8" y2="57.57" stroke="#404040" stroke-width="1.3"/>
<line x1="857.8" y1="35.98" x2="861.8" y2="35.98" stroke="#404040" stroke-width="1.3"/>
<line x1="857.8" y1="14.4" x2="861.8" y2="14.4" stroke="#404040" stroke-width="1.3"/>
<text transform="translate(849.2,19) scale(1,1.07)">200</text>
</g>
<line x1="857.3" y1="14.5" x2="1570" y2="14.5" stroke="#999" stroke-width="2.3"/>
<line x1="861.8" y1="661.9" x2="861.8" y2="666.4" stroke="#404040" stroke-width="1.3"/>
<line x1="898.74" y1="661.9" x2="898.74" y2="666.4" stroke="#404040" stroke-width="1.3"/>
<line x1="935.68" y1="661.9" x2="935.68" y2="666.4" stroke="#404040" stroke-width="1.3"/>
<line x1="972.63" y1="661.9" x2="972.63" y2="666.4" stroke="#404040" stroke-width="1.3"/>
<line x1="1009.57" y1="661.9" x2="1009.57" y2="666.4" stroke="#404040" stroke-width="1.3"/>
<line x1="1046.51" y1="661.9" x2="1046.51" y2="666.4" stroke="#404040" stroke-width="1.3"/>
<line x1="1083.45" y1="661.9" x2="1083.45" y2="666.4" stroke="#404040" stroke-width="1.3"/>
<line x1="1120.39" y1="661.9" x2="1120.39" y2="666.4" stroke="#404040" stroke-width="1.3"/>
<line x1="1157.34" y1="661.9" x2="1157.34" y2="666.4" stroke="#404040" stroke-width="1.3"/>
<line x1="1194.28" y1="661.9" x2="1194.28" y2="666.4" stroke="#404040" stroke-width="1.3"/>
<line x1="1231.22" y1="661.9" x2="1231.22" y2="666.4" stroke="#404040" stroke-width="1.3"/>
<line x1="1268.16" y1="661.9" x2="1268.16" y2="666.4" stroke="#404040" stroke-width="1.3"/>
<line x1="1305.11" y1="661.9" x2="1305.11" y2="666.4" stroke="#404040" stroke-width="1.3"/>
<line x1="1342.05" y1="661.9" x2="1342.05" y2="666.4" stroke="#404040" stroke-width="1.3"/>
<line x1="1378.99" y1="661.9" x2="1378.99" y2="666.4" stroke="#404040" stroke-width="1.3"/>
<line x1="1415.93" y1="661.9" x2="1415.93" y2="666.4" stroke="#404040" stroke-width="1.3"/>
<line x1="1452.87" y1="661.9" x2="1452.87" y2="666.4" stroke="#404040" stroke-width="1.3"/>
<line x1="1489.82" y1="661.9" x2="1489.82" y2="666.4" stroke="#404040" stroke-width="1.3"/>
<line x1="1526.76" y1="661.9" x2="1526.76" y2="666.4" stroke="#404040" stroke-width="1.3"/>
<line x1="1563.7" y1="661.9" x2="1563.7" y2="666.4" stroke="#404040" stroke-width="1.3"/>
<g fill="#606060" font-size="14.2" text-anchor="middle">
<text x="861.8" y="684">1</text>
<text x="898.74" y="684">2</text>
<text x="935.68" y="684">3</text>
<text x="972.63" y="684">4</text>
<text x="1009.57" y="684">5</text>
<text x="1046.51" y="684">6</text>
<text x="1083.45" y="684">7</text>
<text x="1120.39" y="684">8</text>
<text x="1157.34" y="684">9</text>
<text x="1194.28" y="684">10</text>
<text x="1231.22" y="684">11</text>
<text x="1268.16" y="684">12</text>
<text x="1305.11" y="684">13</text>
<text x="1342.05" y="684">14</text>
<text x="1378.99" y="684">15</text>
<text x="1415.93" y="684">16</text>
<text x="1452.87" y="684">17</text>
<text x="1489.82" y="684">18</text>
<text x="1526.76" y="684">19</text>
<text x="1563.7" y="684">20</text>
</g>
<text x="1212.2" y="709.5" font-size="18.45" fill="#606060" text-anchor="middle">Number of change points</text>
<text transform="translate(820.9,338) rotate(-90)" font-size="18.8" fill="#606060" text-anchor="middle">Distortions</text>
<g><polyline points="861.8,314.6 898.74,441.5 935.68,510.5 972.63,560.4 1009.57,579.1 1046.51,592.6 1083.45,600.2 1120.39,607.2 1157.34,614 1194.28,620.8 1231.22,626 1268.16,631 1305.11,635 1342.05,639.5 1378.99,643.2 1415.93,646.3 1452.87,649.5 1489.82,652.5 1526.76,654.8 1563.7,656.9" fill="none" stroke="#70AD47" stroke-width="2.4" stroke-linejoin="round" stroke-linecap="round"/>
<polygon points="861.8,308.6 866.84,314.6 861.8,320.6 856.76,314.6" fill="#70AD47"/>
<polygon points="898.74,435.5 903.78,441.5 898.74,447.5 893.7,441.5" fill="#70AD47"/>
<polygon points="935.68,504.5 940.72,510.5 935.68,516.5 930.64,510.5" fill="#70AD47"/>
<polygon points="972.63,554.4 977.67,560.4 972.63,566.4 967.59,560.4" fill="#70AD47"/>
<polygon points="1009.57,573.1 1014.61,579.1 1009.57,585.1 1004.53,579.1" fill="#70AD47"/>
<polygon points="1046.51,586.6 1051.55,592.6 1046.51,598.6 1041.47,592.6" fill="#70AD47"/>
<polygon points="1083.45,594.2 1088.49,600.2 1083.45,606.2 1078.41,600.2" fill="#70AD47"/>
<polygon points="1120.39,601.2 1125.43,607.2 1120.39,613.2 1115.35,607.2" fill="#70AD47"/>
<polygon points="1157.34,608 1162.38,614 1157.34,620 1152.3,614" fill="#70AD47"/>
<polygon points="1194.28,614.8 1199.32,620.8 1194.28,626.8 1189.24,620.8" fill="#70AD47"/>
<polygon points="1231.22,620 1236.26,626 1231.22,632 1226.18,626" fill="#70AD47"/>
<polygon points="1268.16,625 1273.2,631 1268.16,637 1263.12,631" fill="#70AD47"/>
<polygon points="1305.11,629 1310.15,635 1305.11,641 1300.07,635" fill="#70AD47"/>
<polygon points="1342.05,633.5 1347.09,639.5 1342.05,645.5 1337.01,639.5" fill="#70AD47"/>
<polygon points="1378.99,637.2 1384.03,643.2 1378.99,649.2 1373.95,643.2" fill="#70AD47"/>
<polygon points="1415.93,640.3 1420.97,646.3 1415.93,652.3 1410.89,646.3" fill="#70AD47"/>
<polygon points="1452.87,643.5 1457.91,649.5 1452.87,655.5 1447.83,649.5" fill="#70AD47"/>
<polygon points="1489.82,646.5 1494.86,652.5 1489.82,658.5 1484.78,652.5" fill="#70AD47"/>
<polygon points="1526.76,648.8 1531.8,654.8 1526.76,660.8 1521.72,654.8" fill="#70AD47"/>
<polygon points="1563.7,650.9 1568.74,656.9 1563.7,662.9 1558.66,656.9" fill="#70AD47"/>
</g>
<g><polyline points="861.8,95.4 898.74,114.3 935.68,250.5 972.63,504.3 1009.57,507 1046.51,581.4 1083.45,585 1120.39,590.6 1157.34,599 1194.28,605.4 1231.22,605.9 1268.16,606.6 1305.11,607 1342.05,607 1378.99,607 1415.93,607 1452.87,607 1489.82,607 1526.76,607 1563.7,607" fill="none" stroke="#ED7D31" stroke-width="2.5" stroke-linejoin="round" stroke-linecap="round"/>
<rect x="855.5" y="89.1" width="12.6" height="12.6" fill="#ED7D31"/>
<rect x="892.44" y="108" width="12.6" height="12.6" fill="#ED7D31"/>
<rect x="929.38" y="244.2" width="12.6" height="12.6" fill="#ED7D31"/>
<rect x="966.33" y="498" width="12.6" height="12.6" fill="#ED7D31"/>
<rect x="1003.27" y="500.7" width="12.6" height="12.6" fill="#ED7D31"/>
<rect x="1040.21" y="575.1" width="12.6" height="12.6" fill="#ED7D31"/>
<rect x="1077.15" y="578.7" width="12.6" height="12.6" fill="#ED7D31"/>
<rect x="1114.09" y="584.3" width="12.6" height="12.6" fill="#ED7D31"/>
<rect x="1151.04" y="592.7" width="12.6" height="12.6" fill="#ED7D31"/>
<rect x="1187.98" y="599.1" width="12.6" height="12.6" fill="#ED7D31"/>
<rect x="1224.92" y="599.6" width="12.6" height="12.6" fill="#ED7D31"/>
<rect x="1261.86" y="600.3" width="12.6" height="12.6" fill="#ED7D31"/>
<rect x="1298.81" y="600.7" width="12.6" height="12.6" fill="#ED7D31"/>
<rect x="1335.75" y="600.7" width="12.6" height="12.6" fill="#ED7D31"/>
<rect x="1372.69" y="600.7" width="12.6" height="12.6" fill="#ED7D31"/>
<rect x="1409.63" y="600.7" width="12.6" height="12.6" fill="#ED7D31"/>
<rect x="1446.57" y="600.7" width="12.6" height="12.6" fill="#ED7D31"/>
<rect x="1483.52" y="600.7" width="12.6" height="12.6" fill="#ED7D31"/>
<rect x="1520.46" y="600.7" width="12.6" height="12.6" fill="#ED7D31"/>
<rect x="1557.4" y="600.7" width="12.6" height="12.6" fill="#ED7D31"/>
</g>
<g><polyline points="861.8,316.5 898.74,453 935.68,512.5 972.63,545.8 1009.57,565.3 1046.51,579.9 1083.45,592.5 1120.39,602 1157.34,611.2 1194.28,619.6 1231.22,625.2 1268.16,630.4 1305.11,633.9 1342.05,637.3 1378.99,640.1 1415.93,643.5 1452.87,645.9 1489.82,650.8 1526.76,653.3 1563.7,655.6" fill="none" stroke="#FFC000" stroke-width="3.2" stroke-linejoin="round" stroke-linecap="round"/>
<polygon points="861.8,309.57 868.1,322.17 855.5,322.17" fill="#FFC000"/>
<polygon points="898.74,446.07 905.04,458.67 892.44,458.67" fill="#FFC000"/>
<polygon points="935.68,505.57 941.98,518.17 929.38,518.17" fill="#FFC000"/>
<polygon points="972.63,538.87 978.93,551.47 966.33,551.47" fill="#FFC000"/>
<polygon points="1009.57,558.37 1015.87,570.97 1003.27,570.97" fill="#FFC000"/>
<polygon points="1046.51,572.97 1052.81,585.57 1040.21,585.57" fill="#FFC000"/>
<polygon points="1083.45,585.57 1089.75,598.17 1077.15,598.17" fill="#FFC000"/>
<polygon points="1120.39,595.07 1126.69,607.67 1114.09,607.67" fill="#FFC000"/>
<polygon points="1157.34,604.27 1163.64,616.87 1151.04,616.87" fill="#FFC000"/>
<polygon points="1194.28,612.67 1200.58,625.27 1187.98,625.27" fill="#FFC000"/>
<polygon points="1231.22,618.27 1237.52,630.87 1224.92,630.87" fill="#FFC000"/>
<polygon points="1268.16,623.47 1274.46,636.07 1261.86,636.07" fill="#FFC000"/>
<polygon points="1305.11,626.97 1311.41,639.57 1298.81,639.57" fill="#FFC000"/>
<polygon points="1342.05,630.37 1348.35,642.97 1335.75,642.97" fill="#FFC000"/>
<polygon points="1378.99,633.17 1385.29,645.77 1372.69,645.77" fill="#FFC000"/>
<polygon points="1415.93,636.57 1422.23,649.17 1409.63,649.17" fill="#FFC000"/>
<polygon points="1452.87,638.97 1459.17,651.57 1446.57,651.57" fill="#FFC000"/>
<polygon points="1489.82,643.87 1496.12,656.47 1483.52,656.47" fill="#FFC000"/>
<polygon points="1526.76,646.37 1533.06,658.97 1520.46,658.97" fill="#FFC000"/>
<polygon points="1563.7,648.67 1570,661.27 1557.4,661.27" fill="#FFC000"/>
</g>
<g><polyline points="861.8,315.9 898.74,459.7 935.68,514.3 972.63,559.9 1009.57,578.6 1046.51,592.6 1083.45,601.2 1120.39,608.6 1157.34,615.5 1194.28,622 1231.22,626.3 1268.16,630.9 1305.11,634.8 1342.05,639.2 1378.99,642.9 1415.93,646 1452.87,649.2 1489.82,652.2 1526.76,654.5 1563.7,656.6" fill="none" stroke="#4472C4" stroke-width="3.3" stroke-linejoin="round" stroke-linecap="round"/>
<circle cx="861.8" cy="315.9" r="6.4" fill="#4472C4"/>
<circle cx="898.74" cy="459.7" r="6.4" fill="#4472C4"/>
<circle cx="935.68" cy="514.3" r="6.4" fill="#4472C4"/>
<circle cx="972.63" cy="559.9" r="6.4" fill="#4472C4"/>
<circle cx="1009.57" cy="578.6" r="6.4" fill="#4472C4"/>
<circle cx="1046.51" cy="592.6" r="6.4" fill="#4472C4"/>
<circle cx="1083.45" cy="601.2" r="6.4" fill="#4472C4"/>
<circle cx="1120.39" cy="608.6" r="6.4" fill="#4472C4"/>
<circle cx="1157.34" cy="615.5" r="6.4" fill="#4472C4"/>
<circle cx="1194.28" cy="622" r="6.4" fill="#4472C4"/>
<circle cx="1231.22" cy="626.3" r="6.4" fill="#4472C4"/>
<circle cx="1268.16" cy="630.9" r="6.4" fill="#4472C4"/>
<circle cx="1305.11" cy="634.8" r="6.4" fill="#4472C4"/>
<circle cx="1342.05" cy="639.2" r="6.4" fill="#4472C4"/>
<circle cx="1378.99" cy="642.9" r="6.4" fill="#4472C4"/>
<circle cx="1415.93" cy="646" r="6.4" fill="#4472C4"/>
<circle cx="1452.87" cy="649.2" r="6.4" fill="#4472C4"/>
<circle cx="1489.82" cy="652.2" r="6.4" fill="#4472C4"/>
<circle cx="1526.76" cy="654.5" r="6.4" fill="#4472C4"/>
<circle cx="1563.7" cy="656.6" r="6.4" fill="#4472C4"/>
</g>
<g font-size="14.4" fill="#606060">
<line x1="1281.5" y1="66.4" x2="1307" y2="66.4" stroke="#70AD47" stroke-width="2.7" stroke-linecap="round"/>
<polygon points="1294,63.2 1296.69,66.4 1294,69.6 1291.31,66.4" fill="#70AD47"/>
<text transform="translate(1310,71.4) scale(1,1.05)">Bottom</text>
<line x1="1281.5" y1="101.8" x2="1307" y2="101.8" stroke="#ED7D31" stroke-width="2.7" stroke-linecap="round"/>
<rect x="1289.85" y="97.65" width="8.3" height="8.3" fill="#ED7D31"/>
<text transform="translate(1310,106.8) scale(1,1.05)">Window sliding segmentation(RBF)</text>
<line x1="1281.5" y1="137.2" x2="1307" y2="137.2" stroke="#FFC000" stroke-width="2.7" stroke-linecap="round"/>
<polygon points="1294,132.47 1298.3,141.07 1289.7,141.07" fill="#FFC000"/>
<text transform="translate(1310,142.2) scale(1,1.05)">Binary segmentation(RBF)</text>
<line x1="1281.5" y1="172.6" x2="1307" y2="172.6" stroke="#4472C4" stroke-width="2.7" stroke-linecap="round"/>
<circle cx="1294" cy="172.6" r="4.2" fill="#4472C4"/>
<text transform="translate(1310,177.6) scale(1,1.05)">Dynamic programming(RBF)</text>
</g>
</g>
<text x="385" y="832" font-size="37" fill="#2e2e2e" text-anchor="middle">(a)</text>
<text x="1239.6" y="832" font-size="37" fill="#2e2e2e" text-anchor="middle">(b)</text>
</svg></body></html>
